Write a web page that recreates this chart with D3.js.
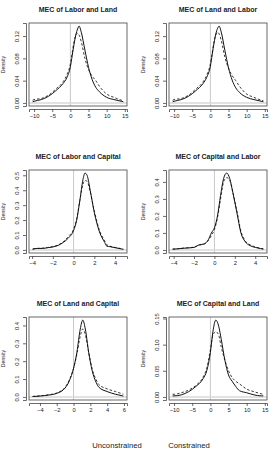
<!DOCTYPE html>
<html>
<head>
<meta charset="utf-8">
<script src="https://cdnjs.cloudflare.com/ajax/libs/d3/7.8.5/d3.min.js"></script>
<style>
  body { margin: 0; background: #fff; }
  text { font-family: "Liberation Sans", Arial, sans-serif; fill: #222; }
</style>
</head>
<body>
<div id="chart"></div>
<script>
// panel titles and axis ticks
const titles = ['MEC of Labor and Land', 'MEC of Land and Labor',
                'MEC of Labor and Capital', 'MEC of Capital and Labor',
                'MEC of Land and Capital', 'MEC of Capital and Land'];
const xTicks = [[-10, -5, 0, 5, 10, 15], [-10, -5, 0, 5, 10, 15],
                [-4, -2, 0, 2, 4], [-4, -2, 0, 2, 4],
                [-4, -2, 0, 2, 4, 6], [-10, -5, 0, 5, 10, 15]];
const yTicks = [[0, 0.04, 0.08, 0.12], [0, 0.04, 0.08, 0.12],
                [0, 0.1, 0.2, 0.3, 0.4, 0.5], [0, 0.1, 0.2, 0.3, 0.4],
                [0, 0.1, 0.2, 0.3, 0.4], [0, 0.05, 0.10, 0.15]];
const yFmt = ['.2f', '.2f', '.1f', '.1f', '.1f', '.2f'];

// density estimates (x grid, unconstrained, constrained)
const x1   = [-10.4, -10, -8, -6, -4, -2, -1, 0, 0.5, 1, 1.5, 2, 2.4, 3, 4, 5, 6, 7, 8, 10, 12, 14, 14.6];
const unc1 = [0.002, 0.003, 0.006, 0.012, 0.022, 0.035, 0.045, 0.065, 0.085, 0.105, 0.122, 0.133, 0.138, 0.127, 0.095, 0.064, 0.042, 0.028, 0.02, 0.01, 0.006, 0.003, 0.002];
const con1 = [0.005, 0.006, 0.008, 0.014, 0.025, 0.038, 0.05, 0.07, 0.09, 0.11, 0.122, 0.125, 0.122, 0.11, 0.08, 0.06, 0.048, 0.04, 0.03, 0.016, 0.01, 0.005, 0.004];

const x2   = [-10.4, -10, -8, -6, -4, -2, -1, 0, 0.5, 1, 1.5, 2, 2.4, 3, 4, 5, 6, 7, 8, 10, 12, 14, 14.6];
const unc2 = [0.002, 0.003, 0.006, 0.012, 0.022, 0.035, 0.046, 0.066, 0.087, 0.107, 0.124, 0.134, 0.138, 0.127, 0.094, 0.063, 0.041, 0.027, 0.019, 0.01, 0.006, 0.003, 0.002];
const con2 = [0.005, 0.006, 0.008, 0.014, 0.025, 0.038, 0.05, 0.07, 0.09, 0.11, 0.122, 0.127, 0.124, 0.112, 0.082, 0.062, 0.049, 0.04, 0.03, 0.016, 0.01, 0.005, 0.004];

const x3   = [-3.95, -3.5, -3, -2.5, -2, -1.5, -1, -0.5, 0, 0.3, 0.6, 0.9, 1.1, 1.3, 1.6, 2, 2.5, 3, 3.2, 3.5, 4, 4.5, 4.8];
const unc3 = [0.005, 0.01, 0.01, 0.015, 0.02, 0.03, 0.05, 0.08, 0.13, 0.2, 0.33, 0.47, 0.515, 0.5, 0.4, 0.25, 0.12, 0.05, 0.025, 0.022, 0.015, 0.008, 0.004];
const con3 = [0.006, 0.01, 0.012, 0.016, 0.022, 0.033, 0.055, 0.09, 0.14, 0.21, 0.33, 0.44, 0.465, 0.46, 0.39, 0.26, 0.13, 0.06, 0.035, 0.025, 0.017, 0.01, 0.006];

const x4   = [-4.1, -3.5, -3, -2.5, -2, -1.5, -1, -0.6, -0.3, 0, 0.3, 0.6, 0.9, 1.2, 1.5, 1.8, 2.2, 2.6, 3, 3.5, 4, 4.5, 4.8];
const unc4 = [0.004, 0.007, 0.01, 0.012, 0.015, 0.03, 0.035, 0.06, 0.1, 0.13, 0.2, 0.32, 0.42, 0.452, 0.42, 0.34, 0.22, 0.1, 0.05, 0.025, 0.015, 0.008, 0.005];
const con4 = [0.005, 0.008, 0.011, 0.013, 0.017, 0.028, 0.036, 0.055, 0.085, 0.12, 0.19, 0.3, 0.4, 0.425, 0.41, 0.34, 0.23, 0.11, 0.055, 0.03, 0.018, 0.01, 0.006];

const x5   = [-4.87, -4, -3, -2, -1, -0.5, 0, 0.4, 0.8, 1.1, 1.4, 1.8, 2.2, 2.7, 3, 4, 5, 5.93];
const unc5 = [0.002, 0.005, 0.01, 0.02, 0.05, 0.09, 0.16, 0.25, 0.38, 0.43, 0.38, 0.25, 0.15, 0.08, 0.055, 0.03, 0.015, 0.005];
const con5 = [0.003, 0.006, 0.012, 0.022, 0.055, 0.095, 0.16, 0.24, 0.34, 0.38, 0.35, 0.25, 0.16, 0.095, 0.07, 0.045, 0.03, 0.015];

const x6   = [-10.4, -10, -8, -6, -4, -2, -1, 0, 0.7, 1.5, 2.3, 3, 4, 5, 6, 7, 8, 10, 12, 14, 14.6];
const unc6 = [0.002, 0.002, 0.004, 0.01, 0.02, 0.035, 0.05, 0.085, 0.125, 0.147, 0.135, 0.11, 0.07, 0.042, 0.03, 0.02, 0.012, 0.008, 0.004, 0.002, 0.002];
const con6 = [0.005, 0.005, 0.008, 0.013, 0.022, 0.038, 0.055, 0.09, 0.118, 0.125, 0.118, 0.095, 0.07, 0.05, 0.037, 0.03, 0.025, 0.015, 0.01, 0.006, 0.005];

const legendLabels = ['Unconstrained', 'Constrained'];

const panels = [
  {x: x1, u: unc1, c: con1}, {x: x2, u: unc2, c: con2},
  {x: x3, u: unc3, c: con3}, {x: x4, u: unc4, c: con4},
  {x: x5, u: unc5, c: con5}, {x: x6, u: unc6, c: con6}
];

const W = 275, H = 450;
const boxW = 98, boxH = 83;
const colLeft = [29, 169];
const rowTop = 23, rowStep = 147;

const svg = d3.select('#chart').append('svg')
  .attr('width', W).attr('height', H);

// R-style 4% range extension
function ext(lo, hi) {
  const d = (hi - lo) * 0.04;
  return [lo - d, hi + d];
}

panels.forEach((p, i) => {
  const left = colLeft[i % 2];
  const top = rowTop + Math.floor(i / 2) * rowStep;
  const g = svg.append('g').attr('transform', `translate(${left},${top})`);

  const ymax = d3.max(p.u.concat(p.c));
  const x = d3.scaleLinear().domain(ext(d3.min(p.x), d3.max(p.x))).range([0, boxW]);
  const y = d3.scaleLinear().domain(ext(0, ymax)).range([boxH, 0]);

  // gray reference lines
  g.append('line')
    .attr('x1', x(0)).attr('x2', x(0)).attr('y1', 0).attr('y2', boxH)
    .attr('stroke', '#c8c8c8').attr('stroke-width', 1);
  g.append('line')
    .attr('x1', 0).attr('x2', boxW).attr('y1', y(0)).attr('y2', y(0))
    .attr('stroke', '#d8d8d8').attr('stroke-width', 1.5);

  const line = d3.line().x((d, j) => x(p.x[j])).y(d => y(d)).curve(d3.curveMonotoneX);

  g.append('path').attr('d', line(p.c))
    .attr('fill', 'none').attr('stroke', '#222').attr('stroke-width', 0.9)
    .attr('stroke-dasharray', '2.5,2');
  g.append('path').attr('d', line(p.u))
    .attr('fill', 'none').attr('stroke', '#111').attr('stroke-width', 1);

  // box
  g.append('rect').attr('x', 0).attr('y', 0).attr('width', boxW).attr('height', boxH)
    .attr('fill', 'none').attr('stroke', '#444').attr('stroke-width', 0.8);

  // x axis
  const xa = g.append('g').attr('transform', `translate(0,${boxH + 3})`)
    .call(d3.axisBottom(x).tickValues(xTicks[i]).tickSize(3).tickPadding(2).tickFormat(d3.format('d')));
  xa.select('.domain').attr('stroke', '#444').attr('stroke-width', 0.8);
  xa.selectAll('.tick line').attr('stroke', '#444').attr('stroke-width', 0.8);
  xa.selectAll('text').style('font-size', '5.8px').attr('fill', '#222').text(d => d < 0 ? '\u2212' + (-d) : d);

  // y axis
  const ya = g.append('g').attr('transform', 'translate(-3,0)')
    .call(d3.axisLeft(y).tickValues(yTicks[i]).tickSize(3).tickFormat(d3.format(yFmt[i])));
  ya.select('.domain').attr('stroke', '#444').attr('stroke-width', 0.8);
  ya.selectAll('.tick line').attr('stroke', '#444').attr('stroke-width', 0.8);
  ya.selectAll('text')
    .style('font-size', '5.8px').attr('fill', '#222')
    .attr('x', 0).attr('dy', 0)
    .attr('text-anchor', 'middle')
    .attr('transform', 'translate(-7,0) rotate(-90)');

  // titles
  g.append('text')
    .attr('x', boxW / 2).attr('y', -11)
    .attr('text-anchor', 'middle')
    .style('font-size', '7px').style('font-weight', 'bold')
    .text(titles[i]);

  g.append('text')
    .attr('transform', `translate(${-24},${boxH / 2}) rotate(-90)`)
    .attr('text-anchor', 'middle')
    .style('font-size', '5.2px')
    .text('Density');
});

// legend at the bottom edge
svg.selectAll('.leg')
  .data(legendLabels)
  .enter()
  .append('text')
  .attr('class', 'leg')
  .attr('x', (d, i) => i === 0 ? 117 : 189)
  .attr('y', 448)
  .attr('text-anchor', 'middle')
  .style('font-size', '7.7px')
  .text(d => d);
</script>
</body>
</html>
